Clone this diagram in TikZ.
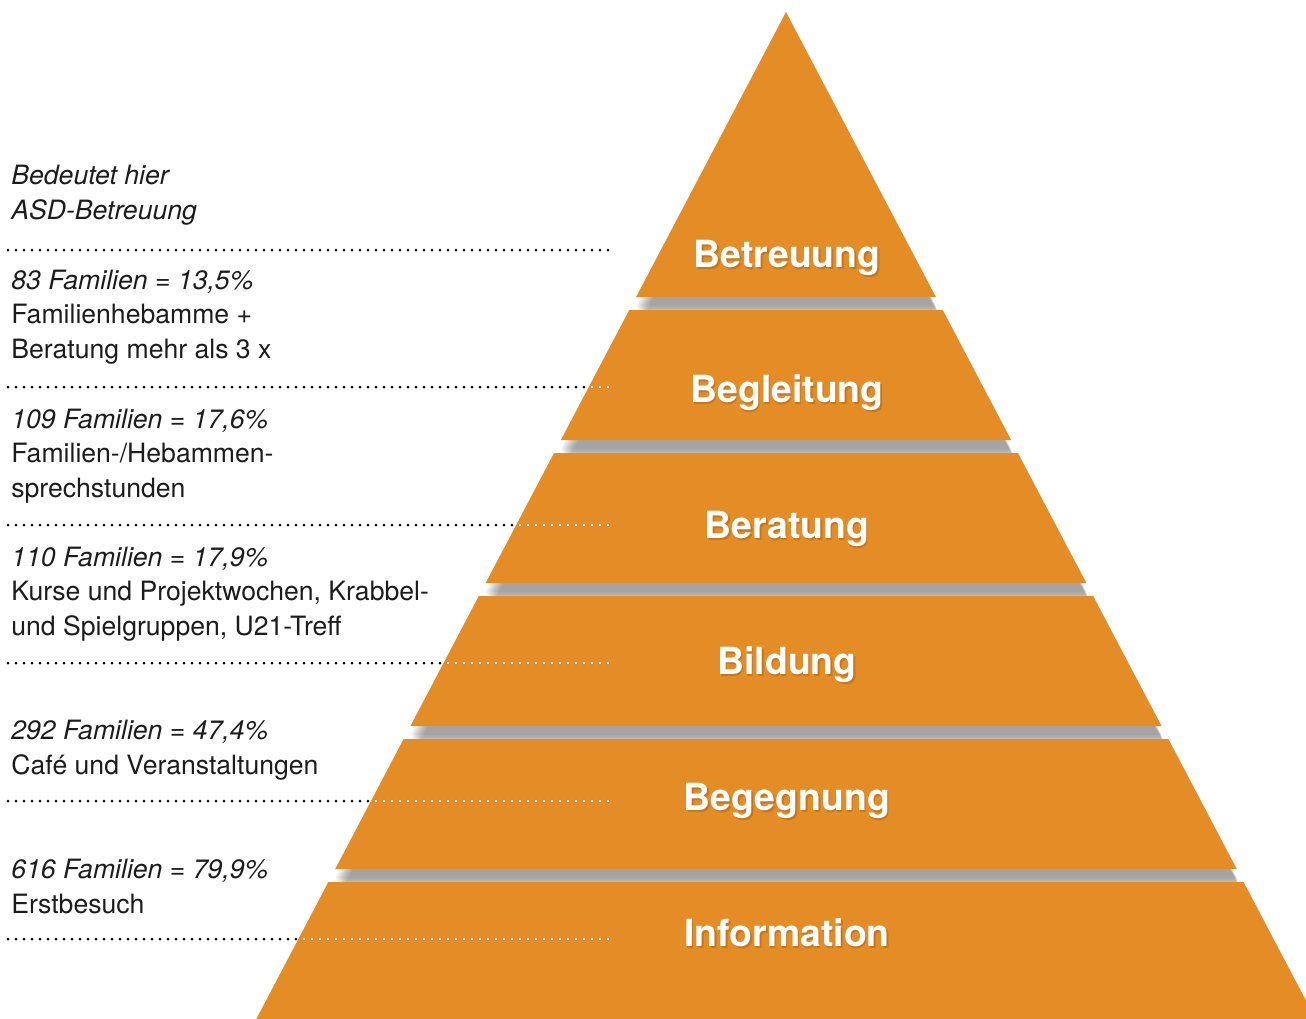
\documentclass[tikz,border=0pt]{standalone}
\usepackage{fontspec}
\setmainfont{TeX Gyre Heros}
\usetikzlibrary{positioning}

\definecolor{tierorange}{RGB}{228,140,38}
\definecolor{notegray}{RGB}{28,28,28}

\tikzset{
  tier/.style={fill=tierorange},
  tiershadow/.style={fill=black, opacity=0.045},
  tierlabel/.style={anchor=base, inner sep=0pt, text=white,
    font=\fontsize{18.7}{22}\selectfont\bfseries},
  note/.style={anchor=base west, align=left, inner sep=0pt, text=notegray,
    font=\fontsize{13.3}{17.25}\selectfont},
  sepline/.style={line width=1.5pt, dash pattern=on 0pt off 4pt, line cap=round},
}

\begin{document}
\begin{tikzpicture}[x=0.5pt, y=-0.5pt]

\useasboundingbox (0,0) rectangle (1306,1018);
\clip (0,0) rectangle (1306,1018);

% apex and side slope of the pyramid
\def\apx{786}
\def\slope{0.526}

% tiers, each with a soft shadow below
\foreach \ya/\yb in {12/297, 310/440, 453/583, 596/726, 739/869, 882/1040}{
  \pgfmathsetmacro\la{\apx-\slope*(\ya-12)}
  \pgfmathsetmacro\ra{\apx+\slope*(\ya-12)}
  \pgfmathsetmacro\lb{\apx-\slope*(\yb-12)}
  \pgfmathsetmacro\rb{\apx+\slope*(\yb-12)}
  \foreach \k in {0,...,9}
    \fill[tiershadow, shift={(0.6*\k,9+1.6*\k)}] (\la,\ya) -- (\ra,\ya) -- (\rb,\yb) -- (\lb,\yb) -- cycle;
  \fill[tier] (\la,\ya) -- (\ra,\ya) -- (\rb,\yb) -- (\lb,\yb) -- cycle;
}

% dotted separators: black on paper, white on the pyramid
\foreach \y/\n in {250/1, 387/2, 525/3, 663/4, 801/5, 939/6}{
  \coordinate (sep\n-a) at (8,\y);
  \coordinate (sep\n-b) at (612,\y);
  \draw[sepline, black] (sep\n-a) -- (sep\n-b);
}
\begin{scope}
  \clip (\apx,12) -- ({\apx+\slope*1030},1042) -- ({\apx-\slope*1030},1042) -- cycle;
  \foreach \n in {1,...,6}
    \draw[sepline, white] (sep\n-a) -- (sep\n-b);
\end{scope}

% tier names
\foreach \y/\lbl in {267/Betreuung, 402/Begleitung, 538/Beratung, 674/Bildung, 810/Begegnung, 946/Information}{
  \node[tierlabel, text=black, opacity=0.15] (\lbl-shadow) at (788.5,\y+2) {\lbl};
  \node[tierlabel] (\lbl) at (787,\y) {\lbl};
}

% notes on the left (placed by the baseline of their last line)
\node[note] (note1) at (11,219) {\itshape Bedeutet hier\\\itshape ASD-Betreuung};
\node[note] (note2) at (11,358) {\itshape 83 Familien = 13,5\%\\Familienhebamme +\\Beratung mehr als 3 x};
\node[note] (note3) at (11,497) {\itshape 109 Familien = 17,6\%\\Familien-/Hebammen-\\sprechstunden};
\node[note] (note4) at (11,635) {\itshape 110 Familien = 17,9\%\\Kurse und Projektwochen, Krabbel-\\und Spielgruppen, U21-Treff};
\node[note] (note5) at (11,774) {\itshape 292 Familien = 47,4\%\\Café und Veranstaltungen};
\node[note] (note6) at (11,913) {\itshape 616 Familien = 79,9\%\\Erstbesuch};

\end{tikzpicture}
\end{document}
